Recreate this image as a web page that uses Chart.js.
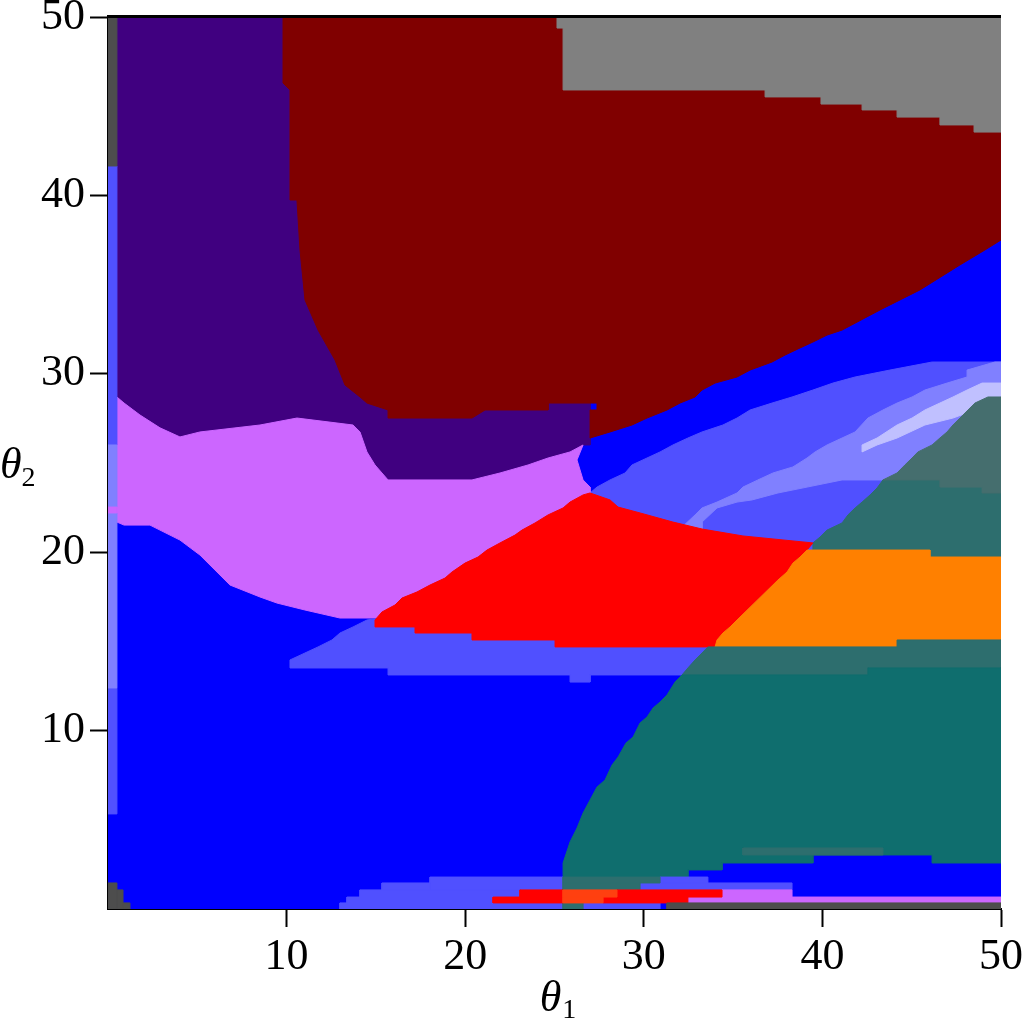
<!DOCTYPE html>
<html>
<head>
<meta charset="utf-8">
<script src="https://cdn.jsdelivr.net/npm/chart.js@4.4.1/dist/chart.umd.min.js"></script>
<style>
  body { margin: 0; background: #fff; }
  #wrap { width: 1024px; height: 1020px; }
</style>
</head>
<body>
<div id="wrap"><canvas id="myChart" width="1024" height="1020"></canvas></div>
<script>
// tick values on both axes
const xTicks = [10, 20, 30, 40, 50];
const yTicks = [10, 20, 30, 40, 50];

// region outlines, [theta1, theta2] pairs
const background = [[0, 0], [50, 0], [50, 50], [0, 50]];

const purpleRegion = [[0.5,50],[26.99,50],[26.99,26.01],[26.6,26.01],[25.87,25.62],[24.64,25.28],[23.52,24.89],[21.95,24.44],[20.38,24.05],[15.68,24.05],[15.34,24.44],[14.95,24.89],[14.5,25.62],[14.11,26.74],[13.72,27.13],[10.58,27.52],[8.51,27.13],[5.15,26.74],[4.03,26.46],[2.91,26.97],[1.79,27.69],[0.9,28.36],[0.5,28.7]];

const darkRedRegion = [[9.8,50],[50,50],[50,37.5],[49.1,36.94],[47.7,36.1],[45.46,34.7],[43.23,33.58],[41.1,32.45],[40.26,32.17],[39.47,31.78],[38.75,31.45],[37.91,31.05],[37.18,30.66],[35.95,30.21],[35.22,29.82],[33.99,29.48],[33.26,29.09],[32.87,28.7],[32.03,28.36],[31.3,27.97],[30.18,27.52],[29.34,27.13],[28.11,26.74],[26.99,26.4],[26.99,27.97],[27.38,27.97],[27.38,28.36],[24.64,28.36],[24.64,27.97],[21.11,27.97],[20.38,27.52],[15.68,27.52],[15.68,27.97],[14.5,28.36],[14.11,28.7],[13.27,29.37],[12.71,30.77],[11.76,32.45],[11.03,34.14],[10.75,36.94],[10.58,39.74],[10.19,39.74],[10.19,45.91],[9.8,46.3]];

const grayRegion = [[25.14,50],[50,50],[50,43.55],[48.49,43.55],[48.49,43.95],[46.58,43.95],[46.58,44.39],[44.18,44.39],[44.18,44.79],[42.22,44.79],[42.22,45.12],[39.92,45.12],[39.92,45.52],[36.79,45.52],[36.79,45.91],[25.48,45.91],[25.48,49.38],[25.14,49.38]];

const mblueUpper = [[26.99,23.32],[27.38,23.65],[28.11,24.05],[28.95,24.44],[29.34,24.89],[30.18,25.28],[30.91,25.62],[31.63,26.01],[32.47,26.4],[33.26,26.74],[34.43,27.13],[35.22,27.52],[35.95,27.97],[37.18,28.36],[38.3,28.7],[39.47,29.09],[40.59,29.48],[41.83,29.82],[43.78,30.21],[46.14,30.66],[50,30.66],[50,19.5],[39.47,19.5],[26.99,22.5]];

const lblueBand = [[32.03,21.3],[32.87,22.09],[33.26,22.48],[34.1,22.81],[35.22,23.32],[35.55,23.65],[36.39,24.05],[37.23,24.44],[38.35,24.78],[39.14,25.28],[39.59,25.62],[40.26,26.01],[41.1,26.4],[41.83,26.74],[42.55,27.52],[43.39,27.97],[44.18,28.36],[45.02,28.7],[45.74,29.09],[46.98,29.48],[48.1,29.82],[48.1,30.21],[49.66,30.66],[50,30.66],[50,28.4],[44.18,24.44],[43.39,24.05],[41.1,24.05],[39.14,23.65],[37.51,23.32],[36.06,22.93],[35.22,22.81],[34.1,22.48],[33.26,21.69],[33.26,21.3]];

const vlblueBand = [[42.22,26.01],[43.06,26.4],[44.18,27.13],[45.02,27.52],[45.74,27.97],[46.58,28.36],[47.31,28.7],[48.1,29.09],[48.94,29.48],[50,29.48],[50,28.7],[49.27,28.36],[48.54,27.97],[47.31,27.52],[45.74,27.13],[44.18,26.4],[43.06,26.01],[42.22,25.62]];

const tealMidUpper = [[39.47,20.12],[39.47,20.52],[39.87,20.85],[40.26,21.24],[41.1,21.64],[41.43,22.09],[41.83,22.48],[42.22,22.81],[42.67,23.21],[43.06,23.6],[43.39,24.05],[46.58,24.05],[46.58,23.65],[48.94,23.65],[48.94,23.32],[50,23.32],[50,19.73],[46.02,19.73],[46.02,20.12]];

const tealGrayRegion = [[44.18,24.44],[44.62,24.89],[45.02,25.28],[45.35,25.62],[46.14,26.01],[46.58,26.4],[46.98,26.74],[47.31,27.13],[47.7,27.52],[48.54,28.36],[49.27,28.7],[50,28.7],[50,23.32],[48.94,23.32],[48.94,23.65],[46.58,23.65],[46.58,24.05],[43.39,24.05]];

const violetRegion = [[0.5,28.7],[0.9,28.36],[1.79,27.69],[2.91,26.97],[4.03,26.46],[5.15,26.74],[8.51,27.13],[10.58,27.52],[13.72,27.13],[14.11,26.74],[14.5,25.62],[14.95,24.89],[15.34,24.44],[15.68,24.05],[20.38,24.05],[21.95,24.44],[23.52,24.89],[24.64,25.28],[25.87,25.62],[26.6,26.01],[26.26,25.17],[26.6,24.05],[26.99,23.65],[26.99,23.32],[26.71,23.21],[25.87,22.81],[25.48,22.48],[24.64,22.09],[23.91,21.64],[23.18,21.24],[22.79,20.96],[21.95,20.52],[21.22,20.12],[20.72,19.73],[19.99,19.39],[19.26,18.89],[18.87,18.55],[18.03,18.16],[17.3,17.77],[16.46,17.43],[16.07,17.04],[15.34,16.65],[15.34,16.31],[12.99,16.31],[11.03,16.76],[9.46,17.15],[8.51,17.49],[6.83,18.16],[5.99,19],[5.15,19.84],[4.03,20.68],[2.35,21.52],[0.9,21.52],[0.5,21.69]];

const mblueMid = [[10.19,13.51],[10.19,13.96],[11.03,14.35],[11.76,14.69],[12.54,15.08],[12.99,15.47],[13.72,15.81],[14.5,16.2],[15.23,16.31],[33.99,15.1],[33.59,14.69],[33.26,14.35],[32.87,13.96],[32.47,13.51],[32.14,13.12],[26.99,13.12],[26.99,12.72],[25.87,12.72],[25.87,13.12],[15.68,13.12],[15.68,13.51]];

const redRegion = [[14.95,16.2],[15.34,16.65],[16.07,17.04],[16.46,17.43],[17.3,17.77],[18.03,18.16],[18.87,18.55],[19.26,18.89],[19.99,19.39],[20.72,19.73],[21.22,20.12],[21.95,20.52],[22.79,20.96],[23.18,21.24],[23.91,21.64],[24.64,22.09],[25.48,22.48],[25.87,22.81],[26.6,23.21],[26.99,23.32],[28.11,22.93],[28.56,22.53],[29.79,22.2],[31.63,21.69],[33.26,21.3],[35.55,20.91],[39.47,20.52],[39.14,20.12],[38.75,19.73],[38.35,19.39],[38.02,18.89],[37.51,18.44],[35.22,16.2],[34.83,15.81],[34.43,15.47],[34.1,15.08],[33.99,14.69],[25.03,14.69],[25.03,15.08],[20.38,15.08],[20.38,15.47],[17.19,15.47],[17.19,15.81],[14.95,15.81]];

const orangeRegion = [[39.47,20.12],[46.02,20.12],[46.02,19.73],[50,19.73],[50,15.08],[44.18,15.08],[44.18,14.69],[33.99,14.69],[34.1,15.08],[34.43,15.47],[34.83,15.81],[35.22,16.2],[37.51,18.44],[38.02,18.89],[38.35,19.39],[38.75,19.73],[39.14,20.12]];

const tealMidLower = [[33.59,14.69],[44.18,14.69],[44.18,15.08],[50,15.08],[50,13.51],[42.55,13.51],[42.55,13.12],[32.14,13.12],[32.47,13.51],[32.87,13.96],[33.26,14.35]];

const tealDarkRegion = [[32.14,13.12],[42.55,13.12],[42.55,13.51],[50,13.51],[50,2.58],[46.14,2.58],[46.14,3.03],[39.47,3.03],[39.47,2.58],[34.38,2.58],[34.38,2.19],[32.47,2.19],[32.47,1.79],[25.48,1.79],[25.48,2.58],[25.87,3.76],[26.26,4.54],[26.6,5.38],[26.99,6.11],[27.38,6.84],[27.83,7.23],[28.22,8.07],[28.56,8.52],[29,9.3],[29.4,9.64],[29.79,10.43],[30.18,10.76],[30.52,11.27],[30.91,11.6],[31.3,12],[31.75,12.72]];

// small cells along the left edge and the bottom rows: [x0, x1, y0, y1]
const mblueCells = [[0,0.5,26.01,41.65],[0,0.5,5.33,12.39],[18.03,25.48,1.07,1.79],[15.34,18.03,1.07,1.46],[30.91,33.59,1.46,1.79],[29.79,38.3,1.07,1.46],[14.11,23.07,0.67,1.07],[13.38,21.56,0.34,0.67],[12.99,25.48,0,0.34],[26.6,30.91,0,0.34]];
const lblueCells = [[0,0.5,22.53,26.01],[0,0.5,12.39,22.2]];
const violetCells = [[0,0.5,22.2,22.53],[34.38,38.3,0.67,1.07],[32.47,50,0.34,0.67]];
const tealMidCells = [[25.48,30.91,1.46,1.79],[25.48,29.79,1.07,1.46],[25.48,26.6,0,0.34],[35.55,43.39,3.03,3.42]];
const redCells = [[23.07,25.48,0.67,1.07],[28.5,34.38,0.67,1.07],[21.56,25.48,0.34,0.67],[27.72,32.47,0.34,0.67]];
const orangeRedCells = [[25.48,28.5,0.67,1.07],[25.48,27.72,0.34,0.67]];
const darkGrayCells = [[0,0.5,41.65,50],[0,0.5,0,1.46],[0.5,0.84,0,1.07],[0.84,1.23,0,0.34],[31.3,50,0,0.34]];

function box(c) {
  return [[c[0], c[2]], [c[1], c[2]], [c[1], c[3]], [c[0], c[3]]];
}

// bottom layer first
const layers = [
  ['#0000ff', [background]],
  ['#400080', [purpleRegion]],
  ['#800000', [darkRedRegion]],
  ['#808080', [grayRegion]],
  ['#5050ff', [mblueUpper]],
  ['#8080ff', [lblueBand]],
  ['#c0c0ff', [vlblueBand]],
  ['#2d6e6e', [tealMidUpper]],
  ['#456e6e', [tealGrayRegion]],
  ['#cc66ff', [violetRegion]],
  ['#5050ff', [mblueMid]],
  ['#ff0000', [redRegion]],
  ['#ff8000', [orangeRegion]],
  ['#2d6e6e', [tealMidLower]],
  ['#0f6e6e', [tealDarkRegion]],
  ['#5050ff', mblueCells.map(box)],
  ['#8080ff', lblueCells.map(box)],
  ['#cc66ff', violetCells.map(box)],
  ['#2d6e6e', tealMidCells.map(box)],
  ['#ff0000', redCells.map(box)],
  ['#ff4010', orangeRedCells.map(box)],
  ['#4d4d4d', darkGrayCells.map(box)]
];

const shapes = [];
layers.forEach(([color, polys]) => polys.forEach(p => shapes.push([color, p])));

const datasets = shapes.map(([color, pts], i) => ({
  data: pts.concat([pts[0]]).map(p => ({ x: p[0], y: p[1] })),
  backgroundColor: color,
  borderColor: color,
  borderWidth: 1,
  borderJoinStyle: 'round',
  fill: 'shape',
  pointRadius: 0,
  pointHoverRadius: 0,
  tension: 0,
  order: shapes.length - i
}));

const serif = '"Liberation Serif", "DejaVu Serif", serif';

// top frame line and the two axis titles with subscripts
const frame = {
  id: 'frame',
  afterDraw(chart) {
    const { ctx, chartArea: a } = chart;
    ctx.save();
    ctx.fillStyle = '#000';
    ctx.fillRect(a.left - 1, a.top - 2, a.right - a.left + 1, 3);

    ctx.textBaseline = 'alphabetic';
    ctx.textAlign = 'left';
    ctx.font = 'italic 44px ' + serif;
    const w = ctx.measureText('θ').width;
    const cx = (a.left + a.right) / 2;
    ctx.fillText('θ', cx - w / 2 - 4, 1011);
    ctx.font = '28px ' + serif;
    ctx.fillText('1', cx + w / 2 - 3, 1018);

    ctx.font = 'italic 44px ' + serif;
    ctx.fillText('θ', 0, 478);
    ctx.font = '28px ' + serif;
    ctx.fillText('2', w, 486);
    ctx.restore();
  }
};

new Chart(document.getElementById('myChart'), {
  type: 'line',
  data: { datasets: datasets },
  options: {
    responsive: false,
    animation: false,
    events: [],
    layout: { padding: { top: 17, right: 23, left: 0, bottom: 0 } },
    plugins: { legend: { display: false }, tooltip: { enabled: false } },
    scales: {
      x: {
        type: 'linear',
        min: 0,
        max: 50,
        afterBuildTicks: s => { s.ticks = xTicks.map(v => ({ value: v })); },
        afterFit: s => { s.height = 111; s.paddingLeft = 0; s.paddingRight = 0; },
        ticks: { color: '#000', font: { family: serif, size: 44 }, padding: 4, maxRotation: 0, autoSkip: false },
        grid: { drawOnChartArea: false, tickLength: 18, tickColor: '#000', tickWidth: 2 },
        border: { display: true, color: '#000', width: 2 }
      },
      y: {
        type: 'linear',
        min: 0,
        max: 50,
        afterBuildTicks: s => { s.ticks = yTicks.map(v => ({ value: v })); },
        afterFit: s => { s.width = 108; s.paddingTop = 0; s.paddingBottom = 0; },
        ticks: { color: '#000', font: { family: serif, size: 44 }, padding: 5, autoSkip: false },
        grid: { drawOnChartArea: false, tickLength: 18, tickColor: '#000', tickWidth: 2 },
        border: { display: true, color: '#000', width: 2 }
      }
    }
  },
  plugins: [frame]
});
</script>
</body>
</html>
